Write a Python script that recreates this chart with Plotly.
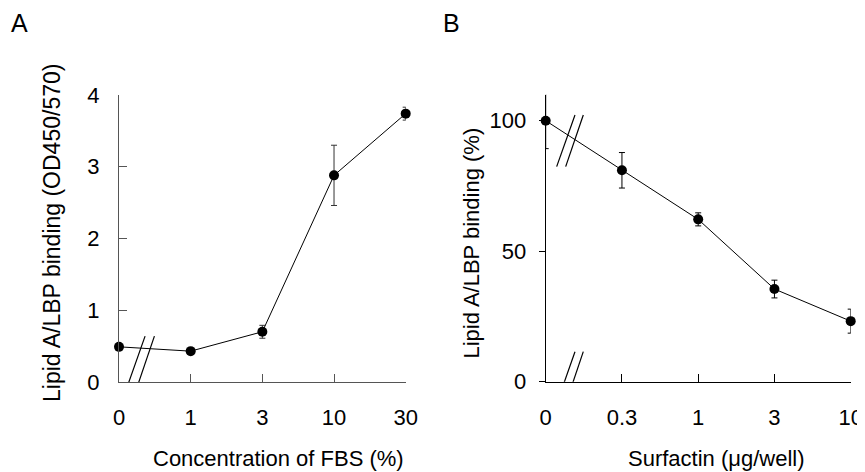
import plotly.graph_objects as go

# Panel A data
fbs_labels = ["0", "1", "3", "10", "30"]
fbs_binding = [0.49, 0.43, 0.70, 2.88, 3.74]
fbs_err = [0.0, 0.0, 0.09, 0.42, 0.09]
a_yticks = [0, 1, 2, 3, 4]

# Panel B data
surf_labels = ["0", "0.3", "1", "3", "10"]
surf_binding = [100.0, 81.0, 62.2, 35.5, 23.2]
surf_err = [10.7, 6.8, 2.5, 3.4, 4.6]
b_yticks = [0, 50, 100]

FONT = "Liberation Sans, Arial, sans-serif"
W, H = 865, 472
OFF = 8  # page body margin


def px(x):
    return (x - OFF) / W


def py(y):
    return 1 - (y - OFF) / H


fig = go.Figure()

fig.add_trace(go.Scatter(
    x=fbs_labels, y=fbs_binding, mode="lines+markers",
    line=dict(color="black", width=1),
    marker=dict(color="black", size=10),
    error_y=dict(type="data", array=fbs_err, visible=True, color="#333", thickness=1, width=3),
    xaxis="x", yaxis="y", cliponaxis=False, showlegend=False,
))
fig.add_trace(go.Scatter(
    x=surf_labels, y=surf_binding, mode="lines+markers",
    line=dict(color="black", width=1),
    marker=dict(color="black", size=10),
    error_y=dict(type="data", array=surf_err, visible=True, color="black", thickness=1, width=3),
    xaxis="x2", yaxis="y2", cliponaxis=False, showlegend=False,
))

tickfont = dict(family=FONT, size=22, color="black")

fig.update_layout(
    template="none",
    width=W, height=H,
    margin=dict(l=0, r=0, t=0, b=0),
    paper_bgcolor="white", plot_bgcolor="white",
    xaxis=dict(domain=[px(119), px(405.7)], anchor="y", type="category", range=[0, 4],
               automargin=False,
               showgrid=False, zeroline=False, showline=True, linecolor="#555", linewidth=1,
               ticks="inside", ticklen=8, tickcolor="#555", tickfont=tickfont,
               ticklabelstandoff=16),
    yaxis=dict(domain=[py(382), py(95)], anchor="x", range=[0, 4], tickvals=a_yticks,
               automargin=False,
               showgrid=False, zeroline=False, showline=True, linecolor="#555", linewidth=1,
               ticks="inside", ticklen=8, tickcolor="#555", tickfont=tickfont,
               ticklabelstandoff=14),
    xaxis2=dict(domain=[px(545.7), px(850.7)], anchor="y2", type="category", range=[0, 4],
                automargin=False,
                showgrid=False, zeroline=False, showline=True, linecolor="black", linewidth=1,
                ticks="inside", ticklen=8, tickcolor="black", tickfont=tickfont,
                ticklabelstandoff=16),
    yaxis2=dict(domain=[py(381.7), py(94.6)], anchor="x2", range=[0, 110], tickvals=b_yticks,
                automargin=False,
                showgrid=False, zeroline=False, showline=True, linecolor="black", linewidth=1,
                ticks="outside", ticklen=6, tickcolor="black", tickfont=tickfont,
                ticklabelstandoff=8),
)

# axis break marks
brk = dict(color="black", width=1.2)
for x0, x1 in [(0.108, 0.364), (0.248, 0.494)]:
    fig.add_shape(type="line", xref="x", yref="y", x0=x0, y0=-0.084, x1=x1, y1=0.64, line=brk)
for x0, x1 in [(0.144, 0.384), (0.262, 0.493)]:
    fig.add_shape(type="line", xref="x2", yref="y2", x0=x0, y0=82.4, x1=x1, y1=102.2, line=brk)
    fig.add_shape(type="line", xref="x2", yref="y2", x0=x0, y0=-8.5, x1=x1, y1=11.5, line=brk)

tf = dict(family=FONT, size=22, color="black")
ann = [
    dict(text="A", x=px(19), y=py(23), font=dict(family=FONT, size=25, color="black")),
    dict(text="B", x=px(452), y=py(23), font=dict(family=FONT, size=25, color="black")),
    dict(text="Concentration of FBS (%)", x=px(278.5), y=py(458), font=tf),
    dict(text="Surfactin (μg/well)", x=px(716.7), y=py(458), font=tf),
    dict(text="Lipid A/LBP binding (OD450/570)", x=px(52), y=py(233), textangle=-90,
         font=dict(family=FONT, size=23, color="black")),
    dict(text="Lipid A/LBP binding (%)", x=px(471), y=py(243.5), font=tf, textangle=-90),
]
for a in ann:
    fig.add_annotation(xref="paper", yref="paper", showarrow=False,
                       xanchor="center", yanchor="middle", **a)

fig.write_html("out.html")
